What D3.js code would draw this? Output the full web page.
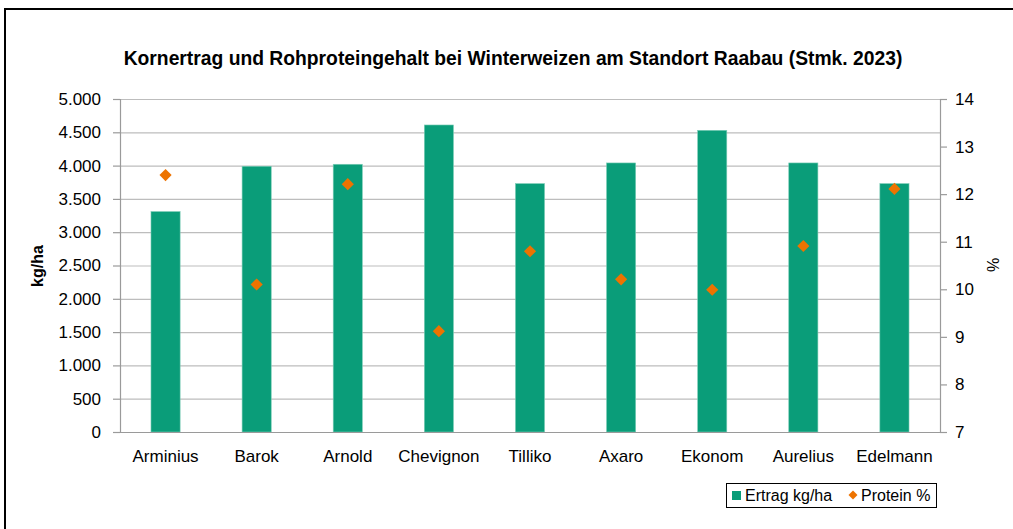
<!DOCTYPE html>
<html>
<head>
<meta charset="utf-8">
<style>
  body { margin: 0; background: #fff; }
  svg text { font-family: "Liberation Sans", Arial, sans-serif; fill: #000; }
  .tick text { font-size: 17px; }
  .title { font-size: 19.3px; font-weight: bold; }
</style>
<script src="https://d3js.org/d3.v7.min.js"></script>
</head>
<body>
<script>
// data
var sorten = ["Arminius", "Barok", "Arnold", "Chevignon", "Tilliko", "Axaro", "Ekonom", "Aurelius", "Edelmann"];
var ertrag = [3310, 3990, 4020, 4610, 3730, 4040, 4530, 4040, 3730];
var protein = [12.4, 10.1, 12.21, 9.12, 10.8, 10.21, 9.99, 10.91, 12.11];
var leftTicks = [0, 500, 1000, 1500, 2000, 2500, 3000, 3500, 4000, 4500, 5000];
var rightTicks = [7, 8, 9, 10, 11, 12, 13, 14];

var width = 1013, height = 529;
var pLeft = 120, pRight = 940, pTop = 99, pBottom = 432;

var svg = d3.select("body").append("svg")
    .attr("width", width)
    .attr("height", height);

// outer frame
svg.append("rect")
    .attr("x", 5).attr("y", 9)
    .attr("width", 1020).attr("height", 540)
    .attr("fill", "none")
    .attr("stroke", "#000")
    .attr("stroke-width", 2);

var x = d3.scaleBand().domain(sorten).range([pLeft, pRight]).paddingInner(0.68).paddingOuter(0.34);
var y = d3.scaleLinear().domain([0, 5000]).range([pBottom, pTop]);
var y2 = d3.scaleLinear().domain([7, 14]).range([pBottom, pTop]);

var fmt = function (d) { return d3.format(",")(d).replace(/,/g, "."); };

// grid lines
svg.append("g").selectAll("line")
    .data(leftTicks.slice(1))
    .enter().append("line")
    .attr("x1", pLeft).attr("x2", pRight)
    .attr("y1", function (d) { return y(d) + 0.5; })
    .attr("y2", function (d) { return y(d) + 0.5; })
    .attr("stroke", "#bdbdbd")
    .attr("stroke-width", 1.2);

// bars
svg.append("g").selectAll("rect")
    .data(ertrag)
    .enter().append("rect")
    .attr("x", function (d, i) { return x(sorten[i]); })
    .attr("y", function (d) { return y(d); })
    .attr("width", x.bandwidth())
    .attr("height", function (d) { return y(0) - y(d); })
    .attr("fill", "#0a9d79")
    .attr("stroke", "#7fcdb8")
    .attr("stroke-width", 0.6);

// axes
var yAxis = svg.append("g")
    .attr("transform", "translate(" + pLeft + ",0)")
    .call(d3.axisLeft(y).tickValues(leftTicks).tickFormat(fmt).tickSize(7).tickPadding(12));
var yAxis2 = svg.append("g")
    .attr("transform", "translate(" + pRight + ",0)")
    .call(d3.axisRight(y2).tickValues(rightTicks).tickFormat(d3.format("d")).tickSize(7).tickPadding(8));
var xAxis = svg.append("g")
    .attr("transform", "translate(0," + pBottom + ")")
    .call(d3.axisBottom(x).tickSize(0).tickPadding(18));

[yAxis, yAxis2, xAxis].forEach(function (a) {
    a.selectAll(".domain").attr("stroke", "#9a9a9a").attr("stroke-width", 1.2);
    a.selectAll(".tick line").attr("stroke", "#9a9a9a").attr("stroke-width", 1.2);
    a.attr("font-family", null).attr("font-size", null);
});
xAxis.select(".domain").attr("d", "M" + (pLeft - 7) + ",0.5H" + pRight);

// protein diamonds
var diamond = d3.symbol().type(d3.symbolSquare).size(74);
svg.append("g").selectAll("path")
    .data(protein)
    .enter().append("path")
    .attr("d", diamond)
    .attr("transform", function (d, i) {
        return "translate(" + (x(sorten[i]) + x.bandwidth() / 2) + "," + y2(d) + ") rotate(45)";
    })
    .attr("fill", "#ed7300");

// title
svg.append("text")
    .attr("class", "title")
    .attr("x", 513).attr("y", 65)
    .attr("text-anchor", "middle")
    .text("Kornertrag und Rohproteingehalt bei Winterweizen am Standort Raabau (Stmk. 2023)");

// axis titles
svg.append("text")
    .attr("transform", "translate(43,266) rotate(-90)")
    .attr("text-anchor", "middle")
    .attr("font-size", 16).attr("font-weight", "bold")
    .text("kg/ha");
svg.append("text")
    .attr("transform", "translate(999,265) rotate(-90)")
    .attr("text-anchor", "middle")
    .attr("font-size", 16)
    .text("%");

// legend
var lg = svg.append("g");
lg.append("rect")
    .attr("x", 726.5).attr("y", 483.5)
    .attr("width", 210).attr("height", 24)
    .attr("fill", "#fff").attr("stroke", "#000").attr("stroke-width", 1);
lg.append("rect")
    .attr("x", 732).attr("y", 491).attr("width", 9).attr("height", 9)
    .attr("fill", "#0a9d79");
lg.append("text")
    .attr("x", 745).attr("y", 501)
    .attr("font-size", 16)
    .text("Ertrag kg/ha");
lg.append("path")
    .attr("d", d3.symbol().type(d3.symbolSquare).size(40))
    .attr("transform", "translate(853,495) rotate(45)")
    .attr("fill", "#ed7300");
lg.append("text")
    .attr("x", 861).attr("y", 501)
    .attr("font-size", 16)
    .text("Protein %");
</script>
</body>
</html>
